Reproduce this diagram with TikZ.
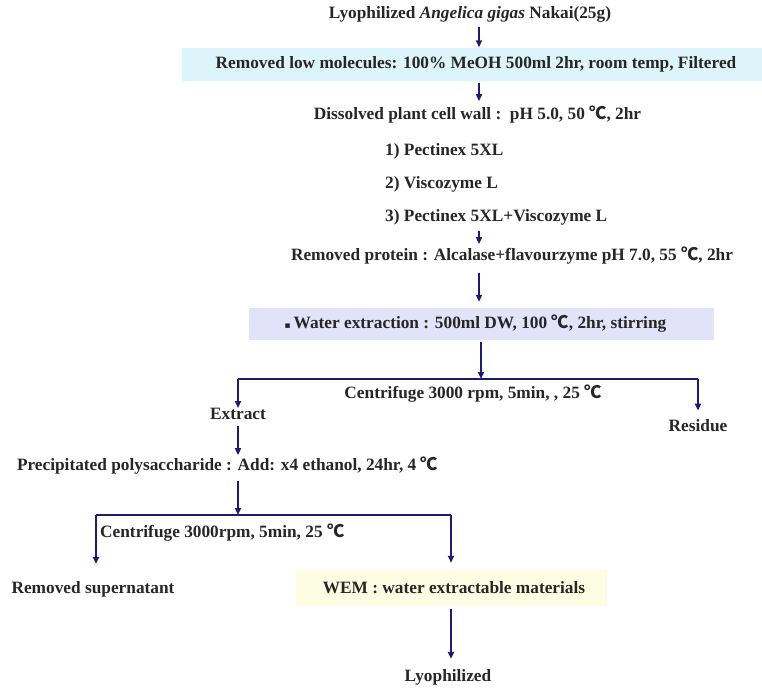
\documentclass[tikz,border=0pt]{standalone}
\usepackage{fontspec}
\setmainfont{Liberation Serif}
\newfontfamily\cjkfont{Noto Sans CJK KR}
\newfontfamily\symfont{DejaVu Sans}
\usetikzlibrary{arrows.meta}
\definecolor{arrblue}{HTML}{1C1C70}
\definecolor{cyanbox}{HTML}{DDF5FA}
\definecolor{lavbox}{HTML}{E2E2F8}
\definecolor{yelbox}{HTML}{FDFDE4}
\newcommand{\degc}{{\cjkfont ℃}}
\begin{document}
\begin{tikzpicture}[x=1pt,y=-1pt,
  txt/.style={font=\bfseries\fontsize{17.3}{20}\selectfont, inner sep=0pt, text=black!85},
  flow/.style={draw=arrblue, line width=2.3pt, -{Triangle[length=7pt,width=6pt]}},
  bar/.style={draw=arrblue, line width=2.6pt, line join=miter},
  bg/.style={txt, inner sep=0pt}
]
\useasboundingbox (0,0) rectangle (762,696);

% main column
\node[txt] (t0) at (470,14) {Lyophilized \textit{Angelica gigas} Nakai(25g)};
\node[bg, fill=cyanbox, minimum width=580, minimum height=33] (b1) at (472,64)
  {\hspace*{8pt}Removed low molecules: 100\% MeOH 500ml 2hr, room temp, Filtered};
\node[txt] (t2) at (477.5,115) {Dissolved plant cell wall :\ \ pH 5.0, 50 \degc, 2hr};
\node[txt, anchor=west] (e1) at (385,151) {1) Pectinex 5XL};
\node[txt, anchor=west] (e2) at (385,184) {2) Viscozyme L};
\node[txt, anchor=west] (e3) at (385,217) {3) Pectinex 5XL+Viscozyme L};
\node[txt] (t4) at (512,256) {Removed protein : Alcalase+flavourzyme pH 7.0, 55 \degc, 2hr};
\node[bg, fill=lavbox, minimum width=465, minimum height=32] (b3) at (481.5,324)
  {{\symfont\fontsize{9}{10}\selectfont ▪}\,Water extraction : 500ml DW, 100 \degc, 2hr, stirring\hspace*{12pt}};

\coordinate (ax) at (479,0);
\draw[flow, shorten <=5pt] (t0.south -| ax) -- (b1.north -| ax);
\draw[flow, shorten <=2pt, shorten >=5pt] (b1.south -| ax) -- (t2.north -| ax);
\draw[flow, shorten <=6pt, shorten >=3pt] (e3.south -| ax) -- (t4.north -| ax);
\draw[flow, shorten <=8pt, shorten >=6pt] (t4.south -| ax) -- (b3.north -| ax);

% first centrifuge branch
\coordinate (h1) at (481,379);
\node[txt] (c1) at (473,394) {Centrifuge 3000 rpm, 5min, , 25 \degc};
\node[txt] (ex) at (238,414) {Extract};
\node[txt] (rs) at (698,426) {Residue};
\draw[flow, shorten <=2pt] (b3.south -| h1) -- (h1);
\draw[bar] (ex.north |- h1) -- (rs.north |- h1);
\draw[flow] (ex.north |- h1) -- (ex.north);
\draw[flow, shorten >=9pt] (rs.north |- h1) -- (rs.north);

% precipitation
\node[txt] (pp) at (227.5,466) {Precipitated polysaccharide : Add: x4 ethanol, 24hr, 4 \degc};
\draw[flow, shorten <=6pt, shorten >=2pt] (ex.south) -- (ex.south |- pp.north);

% second centrifuge branch
\coordinate (h2) at (238,515);
\coordinate (l2) at (96,515);
\coordinate (r2) at (451,515);
\node[txt, anchor=west] (c2) at (100,533) {Centrifuge 3000rpm, 5min, 25 \degc};
\node[txt] (sup) at (93,589) {Removed supernatant};
\node[bg, fill=yelbox, minimum width=311, minimum height=36] (wem) at (451.5,588)
  {\hspace*{5pt}WEM : water extractable materials};
\node[txt] (ly) at (448,677) {Lyophilized};
\draw[flow, shorten <=6pt] (pp.south -| h2) -- (h2);
\draw[bar] (l2) -- (r2);
\draw[flow, shorten >=17pt] (l2) -- (l2 |- sup.north);
\draw[flow, shorten >=7pt] (r2) -- (r2 |- wem.north);
\draw[flow, shorten <=3pt, shorten >=10pt] (wem.south -| r2) -- (ly.north -| r2);
\end{tikzpicture}
\end{document}
